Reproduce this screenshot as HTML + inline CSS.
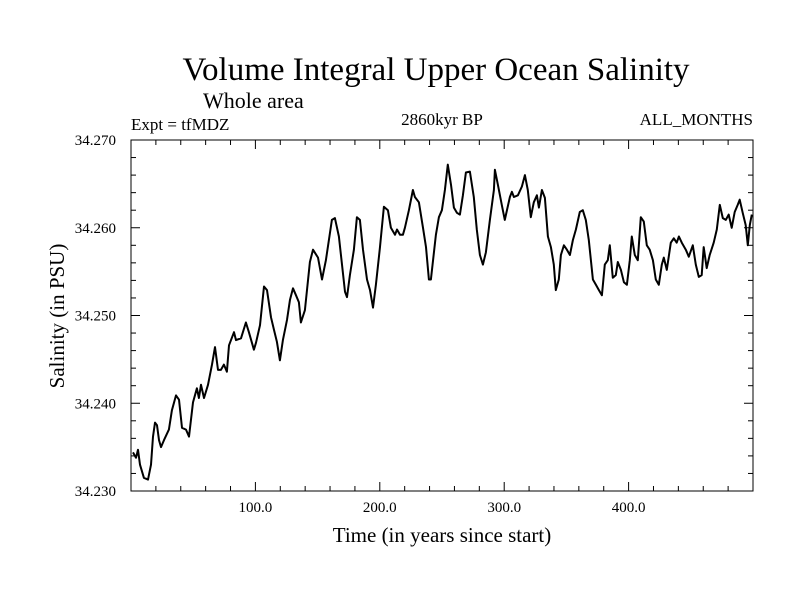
<!DOCTYPE html>
<html><head><meta charset="utf-8"><style>
body{margin:0;background:#fff}
svg text{font-family:"Liberation Serif",serif;fill:#000}
</style></head><body>
<svg id="chart" width="800" height="600">
<rect width="800" height="600" fill="#fff"/>
<text x="436" y="80" font-size="33" text-anchor="middle">Volume Integral Upper Ocean Salinity</text>
<text x="203" y="108" font-size="22">Whole area</text>
<text x="131" y="130" font-size="17">Expt = tfMDZ</text>
<text x="442" y="125" font-size="17" text-anchor="middle">2860kyr BP</text>
<text x="753" y="125" font-size="17" text-anchor="end">ALL_MONTHS</text>
<text x="442" y="542" font-size="21" text-anchor="middle">Time (in years since start)</text>
<text transform="translate(64,316) rotate(-90)" font-size="21" text-anchor="middle">Salinity (in PSU)</text>
<g id="axes"></g>
<rect x="131" y="140" width="622" height="351" fill="none" stroke="#000" stroke-width="1"/>
<path id="line" fill="none" stroke="#000" stroke-width="2" stroke-linejoin="round"/>
</svg>
<script>
const years=[1.6,4,5.6,7.2,10.4,13.7,16.1,17.7,19.3,20.9,22.5,24.1,26.5,30.5,32.9,36.2,38.6,41,44.2,46.6,49.8,53,54.6,56.3,58.7,61.9,65.1,67.5,69.9,72.3,74.7,77.1,78.8,82.8,84.4,88.4,92.4,94.8,98.8,100.5,103.7,106.9,109.3,112.5,114.9,117.3,119.7,122.1,125.4,127.8,130.2,132.6,135,136.6,139.8,143.8,146.3,150.3,153.5,156.7,161.5,163.9,167.1,172,173.6,
176,179.2,181.6,184,186.5,189.7,192.1,194.5,196.9,200.1,203.3,206.5,208.9,212.2,213.8,216.2,218.6,220.2,223.4,226.6,228.2,231.4,234.7,237.1,239.5,241.1,245.1,247.5,249.9,252.3,254.7,257.2,259.6,262,264.4,266.8,269.2,272.4,275.6,278,280.5,282.9,285.3,288.5,291.7,292.5,294.9,298.1,300.5,304.6,306.2,307.8,311,314.2,316.6,319,321.4,323.8,326.3,327.9,330.3,332.7,335.1,337.5,339.9,341.5,343.9,
345.6,348,350.4,352.8,355.2,357.6,360.8,363.2,365.6,368,371.3,373.7,376.1,378.5,380.9,383.3,384.9,387.3,389.7,391.3,393.8,396.2,398.6,401,402.6,405,407.4,409.8,412.2,414.6,417,419.5,421.9,424.3,426.7,428.3,430.7,433.9,436.3,438.7,440.4,442.8,446,448.4,451.6,454,456.4,458.8,460.4,462.8,465.2,468.4,470.9,473.3,475.7,478.1,480.5,482.9,485.3,487.7,489.3,491.7,494.1,495.8,497.4,499];
const salinity=[34.2344,34.2338,34.2347,34.2330,34.2315,34.2313,34.2330,34.2362,34.2378,34.2375,34.2358,34.2350,34.2358,34.2370,34.2392,34.2409,34.2404,34.2372,34.2370,34.2362,34.2401,34.2417,34.2406,34.2421,34.2406,34.2421,34.2444,34.2464,34.2438,34.2438,34.2444,34.2436,34.2466,34.2481,34.2472,34.2474,34.2492,34.2481,34.2461,34.2469,34.2489,34.2533,34.2529,34.2498,34.2484,34.2470,34.2449,34.2472,34.2495,34.2518,34.2531,34.2523,34.2515,34.2492,34.2506,34.2561,34.2575,34.2566,34.2541,34.2563,34.2609,34.2611,34.2590,34.2527,34.2521,
34.2546,34.2575,34.2612,34.2609,34.2575,34.2541,34.2529,34.2509,34.2535,34.2577,34.2624,34.2620,34.2600,34.2592,34.2598,34.2592,34.2592,34.2600,34.2620,34.2643,34.2635,34.2629,34.2600,34.2578,34.2541,34.2541,34.2592,34.2612,34.2620,34.2643,34.2672,34.2649,34.2623,34.2617,34.2615,34.2637,34.2663,34.2664,34.2635,34.2598,34.2569,34.2558,34.2572,34.2609,34.2643,34.2666,34.2649,34.2626,34.2609,34.2635,34.2641,34.2635,34.2637,34.2647,34.2660,34.2643,34.2612,34.2629,34.2637,34.2623,34.2643,34.2634,34.2590,34.2578,34.2558,34.2529,34.2541,
34.2569,34.2580,34.2575,34.2569,34.2586,34.2598,34.2618,34.2620,34.2609,34.2586,34.2541,34.2535,34.2529,34.2523,34.2558,34.2563,34.2580,34.2543,34.2546,34.2561,34.2552,34.2538,34.2535,34.2563,34.2590,34.2569,34.2563,34.2612,34.2607,34.2580,34.2575,34.2563,34.2541,34.2535,34.2558,34.2566,34.2552,34.2583,34.2588,34.2583,34.2590,34.2583,34.2575,34.2567,34.2580,34.2558,34.2544,34.2546,34.2578,34.2554,34.2569,34.2583,34.2598,34.2626,34.2611,34.2609,34.2615,34.2600,34.2618,34.2626,34.2632,34.2617,34.2603,34.2580,34.2603,34.2615];
const xTicks=[100,200,300,400];
const xTickLabels=["100.0","200.0","300.0","400.0"];
const yTicks=[34.230,34.240,34.250,34.260,34.270];
const yTickLabels=["34.230","34.240","34.250","34.260","34.270"];
const L=131,R=753,T=140,B=491,X0=0,X1=500,Y0=34.230,Y1=34.270;
const sx=v=>L+(v-X0)/(X1-X0)*(R-L);
const sy=v=>B-(v-Y0)/(Y1-Y0)*(B-T);
const NS="http://www.w3.org/2000/svg";
const g=document.getElementById('axes');
function ln(x1,y1,x2,y2,name){const l=document.createElementNS(NS,'line');
l.setAttribute('x1',x1);l.setAttribute('y1',y1);l.setAttribute('x2',x2);l.setAttribute('y2',y2);
l.setAttribute('stroke','#000');l.setAttribute('stroke-width','1');


g.appendChild(l);}
function tx(x,y,s,anchor,name){const t=document.createElementNS(NS,'text');
t.setAttribute('x',x);t.setAttribute('y',y);t.setAttribute('font-size','15');t.setAttribute('text-anchor',anchor);t.textContent=s;


g.appendChild(t);}
for(let v=20;v<500;v+=20){const x=sx(v),big=v%100===0,len=big?9:5;
ln(x,B,x,B-len,'x-tick');ln(x,T,x,T+len,'x-tick-top');}
for(let k=0;k<=20;k++){const v=Y0+k*0.002,y=sy(v),big=k%5===0,len=big?9:5;
ln(L,y,L+len,y,'y-tick');ln(R,y,R-len,y,'y-tick-right');}
xTicks.forEach((v,i)=>tx(sx(v),512,xTickLabels[i],'middle','x-tick-label'));
yTicks.forEach((v,i)=>tx(116,sy(v)+5,yTickLabels[i],'end','y-tick-label'));
let d='';years.forEach((yr,i)=>{d+=(i?'L':'M')+sx(yr).toFixed(1)+','+sy(salinity[i]).toFixed(1);});
document.getElementById('line').setAttribute('d',d);
</script>
</body></html>
